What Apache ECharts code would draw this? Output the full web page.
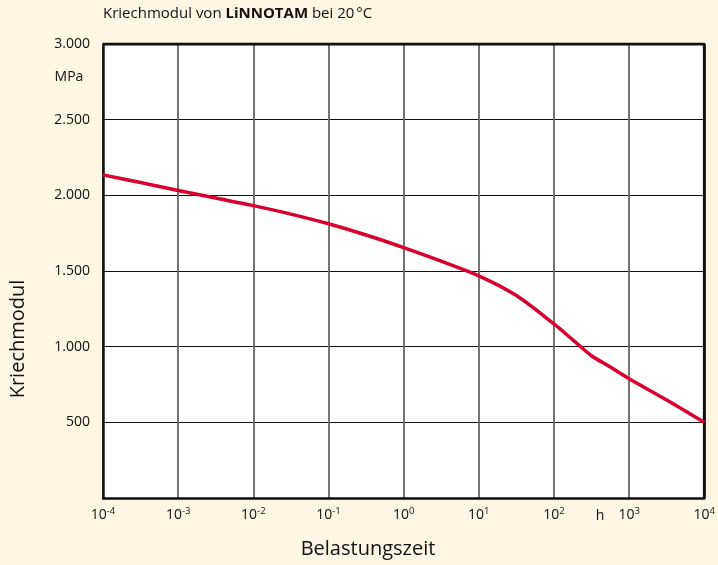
<!DOCTYPE html>
<html><head><meta charset="utf-8">
<script src="https://cdn.jsdelivr.net/npm/echarts@6/dist/echarts.min.js"></script>
<style>html,body{margin:0;padding:0;background:#FEF5E2;}#c{width:718px;height:565px;}</style>
</head><body><div id="c"></div>
<script>
// Belastungszeit in h (log scale), Kriechmodul in MPa
const timeHours = [1e-4, 3.16e-4, 1e-3, 3.16e-3, 1e-2, 3.16e-2, 1e-1, 3.16e-1, 1e0, 3.16e0, 1e1, 3.16e1, 1e2, 1.78e2, 3.16e2, 5.62e2, 1e3, 3.16e3, 1e4];
const modulusMPa = [2135, 2085, 2032, 1982, 1932, 1876, 1812, 1738, 1655, 1565, 1468, 1338, 1150, 1045, 940, 865, 788, 648, 500];
const yTicks = [0, 500, 1000, 1500, 2000, 2500, 3000];

const chart = echarts.init(document.getElementById('c'));
const font = '"Open Sans", "Noto Sans", sans-serif';
const fs = 14;
chart.setOption({
  backgroundColor: '#FEF5E2',
  animation: false,
  grid: {left: 103, right: 8, top: 44, bottom: 67, show: true, backgroundColor: '#ffffff', borderWidth: 0},
  xAxis: {
    type: 'log', logBase: 10, min: 1e-4, max: 1e4,
    axisLine: {show: true, onZero: false, lineStyle: {color: '#111', width: 2.5}},
    axisTick: {show: false},
    splitLine: {show: true, lineStyle: {color: '#666', width: 1.8}},
    axisLabel: {
      margin: 8, color: '#111', fontFamily: font, fontSize: fs,
      formatter: function (v) { const e = Math.round(Math.log10(v)); return '10{s|' + e + '}'; },
      rich: {s: {fontSize: 9.5, verticalAlign: 'top', padding: [0, 0, 9, 0], fontFamily: font, color: '#111'}}
    }
  },
  yAxis: {
    type: 'value', min: 0, max: 3000, interval: 500,
    axisLine: {show: true, lineStyle: {color: '#111', width: 2.5}},
    axisTick: {show: false},
    splitLine: {show: true, lineStyle: {color: '#111', width: 1.2}},
    axisLabel: {
      margin: 13, color: '#111', fontFamily: font, fontSize: fs,
      formatter: function (v) { if (v === 0) return ''; return v >= 1000 ? (Math.floor(v / 1000) + '.' + String(v % 1000).padStart(3, '0')) : String(v); }
    }
  },
  series: [{
    type: 'line', smooth: 0.3, symbol: 'none',
    data: timeHours.map((t, i) => [t, modulusMPa[i]]),
    lineStyle: {color: '#D8002F', width: 3.5}
  }, {
    type: 'line', symbol: 'none', silent: true,
    data: [[1e-4, 3000], [1e4, 3000], [1e4, 0]],
    lineStyle: {color: '#111', width: 2.8}, z: 1
  }],
  graphic: [
    {type: 'text', left: 103, top: 6, style: {rich: {n: {fontSize: 15, fontFamily: font, fill: '#111'}, b: {fontSize: 15, fontFamily: font, fontWeight: 'bold', fill: '#111'}}, text: '{n|Kriechmodul von }{b|LiNNOTAM}{n| bei 20\u202F°C}'}},
    {type: 'text', x: 69, y: 77, style: {text: 'MPa', fontSize: fs, fontFamily: font, fill: '#111', align: 'center', verticalAlign: 'middle'}},
    {type: 'text', x: 600, y: 516, style: {text: 'h', fontSize: fs, fontFamily: font, fill: '#111', align: 'center', verticalAlign: 'middle'}},
    {type: 'text', x: 8, y: 339, rotation: Math.PI / 2, style: {text: 'Kriechmodul', fontSize: 20, fontFamily: font, fill: '#111', align: 'center', verticalAlign: 'top'}},
    {type: 'text', x: 368, y: 549, style: {text: 'Belastungszeit', fontSize: 20, fontFamily: font, fill: '#111', align: 'center', verticalAlign: 'middle'}}
  ]
});
</script></body></html>
